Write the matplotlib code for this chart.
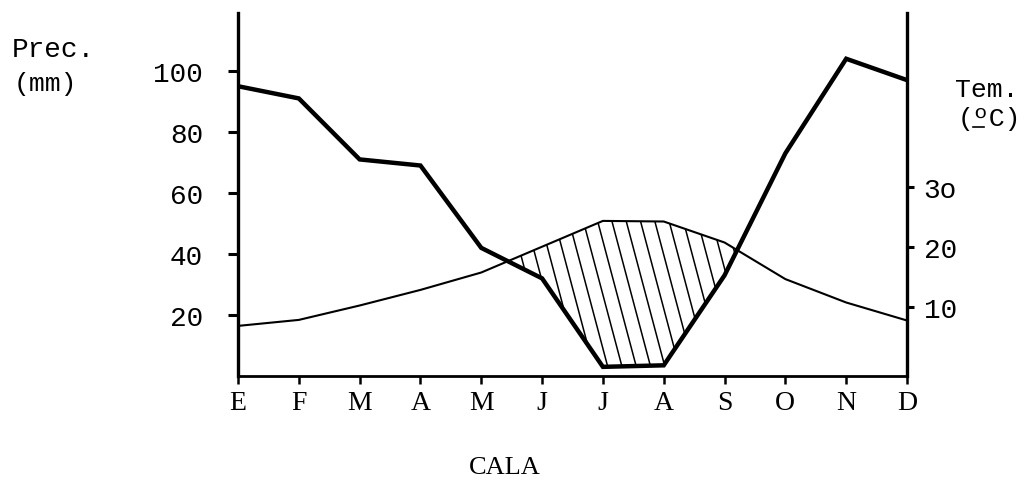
import numpy as np
import matplotlib
matplotlib.use('Agg')
import matplotlib.pyplot as plt
from matplotlib.collections import LineCollection
from matplotlib.lines import Line2D

# datos del climograma
meses = ['E', 'F', 'M', 'A', 'M', 'J', 'J', 'A', 'S', 'O', 'N', 'D']
precipitacion = [95, 91, 71, 69, 42, 32, 3, 3.5, 33, 73, 104, 97]   # mm
temperatura = [6.9, 7.9, 10.3, 12.9, 15.8, 20.1, 24.4, 24.3, 20.8, 14.7, 10.8, 7.8]  # ºC
ticks_prec = [20, 40, 60, 80, 100]
ticks_temp = [10, 20, 30]
etiquetas_temp = ['10', '20', '3o']

mono = 'Liberation Mono'
serif = 'Liberation Serif'

W, H = 1031, 481
fig = plt.figure(figsize=(W / 100, H / 100), dpi=100)
ax = fig.add_axes([238 / W, 1 - 377 / H, (907 - 238) / W, (377 - 14) / H])
ax2 = ax.twinx()

x = np.arange(len(meses))
p_lim = (0, 119)
t_lim = (-1.45, 59.05)

ax.set_xlim(0, len(meses) - 1)
ax.set_ylim(*p_lim)
ax2.set_ylim(*t_lim)

ax.plot(x, precipitacion, color='black', lw=3.2, solid_joinstyle='miter', zorder=4)
ax2.plot(x, temperatura, color='black', lw=1.5, zorder=4)

# temperatura pasada a la escala de precipitacion, para el rayado
t = np.array(temperatura)
p = np.array(precipitacion)
t_en_p = (t - t_lim[0]) / (t_lim[1] - t_lim[0]) * (p_lim[1] - p_lim[0]) + p_lim[0]
xf = np.linspace(0, len(meses) - 1, 2000)
pf = np.interp(xf, x, p)
tf = np.interp(xf, x, t_en_p)
zona = ax.fill_between(xf, pf, tf, where=tf > pf, facecolor='none', edgecolor='none')

# rayado inclinado recortado a la zona seca
segs = []
for x0 in np.arange(-3, 14, 0.235):
    segs.append([(x0, 120), (x0 + 1.6, 0)])
rayas = LineCollection(segs, colors='black', linewidths=1.1, zorder=3)
ax.add_collection(rayas)
rayas.set_clip_path(zona.get_paths()[0], ax.transData)

for a in (ax, ax2):
    a.spines['top'].set_visible(False)
ax.spines['left'].set_linewidth(2.4)
ax.spines['bottom'].set_linewidth(2.0)
ax2.spines['right'].set_linewidth(2.4)
ax2.spines['left'].set_visible(False)
ax2.spines['bottom'].set_visible(False)

ax.set_xticks(x)
ax.set_xticklabels(meses, fontfamily=serif, fontsize=20)
ax.tick_params(axis='x', direction='out', length=6, width=1.8, pad=4)

ax.set_yticks(ticks_prec)
ax.set_yticklabels([str(v) for v in ticks_prec], fontfamily=mono, fontsize=20)
ax.tick_params(axis='y', direction='out', length=7, width=2.2, pad=18)

ax2.set_yticks(ticks_temp)
ax2.set_yticklabels(etiquetas_temp, fontfamily=mono, fontsize=20)
ax2.tick_params(axis='y', direction='out', length=5, width=2.2, pad=7)

fig.text(12 / W, 1 - 50 / H, 'Prec.', fontfamily=mono, fontsize=20, va='center', ha='left')
fig.text(14 / W, 1 - 84 / H, '(mm)', fontfamily=mono, fontsize=19, va='center', ha='left')
fig.text(955 / W, 1 - 90 / H, 'Tem.', fontfamily=mono, fontsize=19, va='center', ha='left')
fig.text(958 / W, 1 - 126 / H, '(ºC)', fontfamily=mono, fontsize=19, va='baseline', ha='left')
# subrayado de la º
fig.add_artist(Line2D([973 / W, 984 / W], [1 - 128 / H, 1 - 128 / H],
                      color='black', lw=1.2, transform=fig.transFigure))
fig.text(505 / W, 1 - 468 / H, 'CALA', fontfamily=serif, fontsize=19, va='center', ha='center')

fig.savefig('out.png', dpi=100)
